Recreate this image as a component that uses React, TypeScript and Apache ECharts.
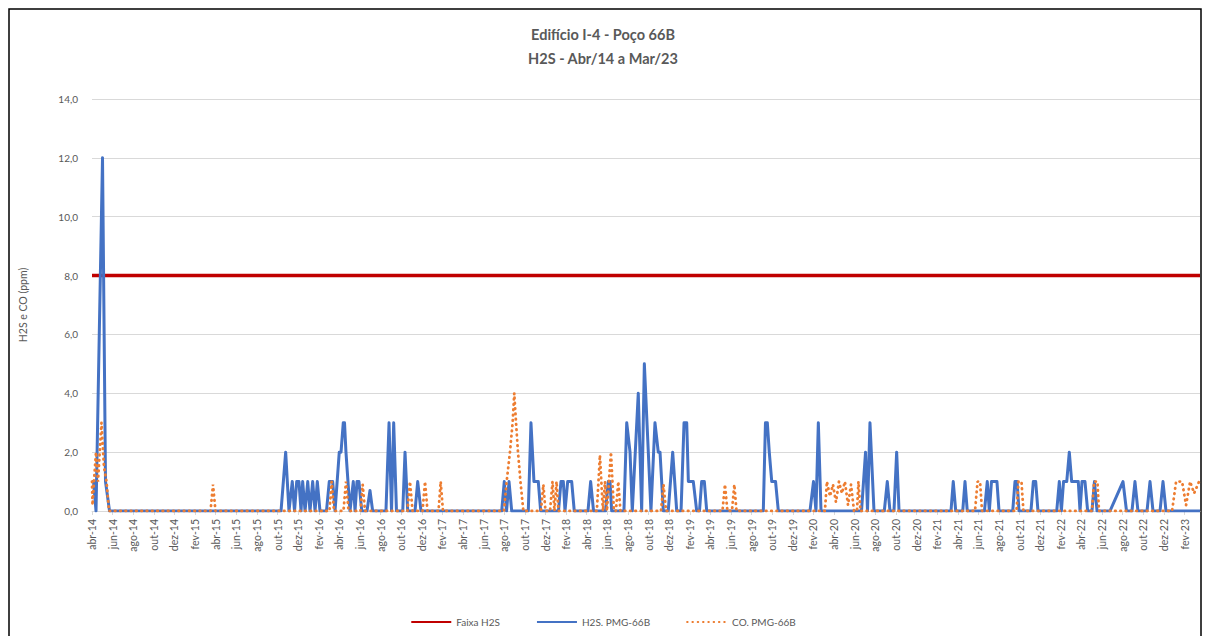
import React, { useEffect, useRef } from "react";
import * as echarts from "echarts";

// x = months since 1 Apr 2014 (fractional), y = ppm
const monthNames = ["jan", "fev", "mar", "abr", "mai", "jun", "jul", "ago", "set", "out", "nov", "dez"];
const xMin = 0;
const xMax = 107.5;
const faixaH2S = 8.0;
const titleLines = ["Edifício I-4 - Poço 66B", "H2S - Abr/14 a Mar/23"];
const seriesNames = ["Faixa H2S", "H2S. PMG-66B", "CO. PMG-66B"];

const h2sPoints: [number, number][] = [
  [0, 1.0], [0.15, 1.0], [0.39, 0], [1.02, 12], [1.31, 1.0], [1.7, 0],
  [18.34, 0], [18.79, 2.0], [19.11, 0], [19.43, 1.0], [19.65, 0], [19.86, 1.0], [20.08, 1.0], [20.28, 0],
  [20.44, 1.0], [20.67, 0], [20.93, 1.0], [21.15, 0], [21.41, 1.0], [21.64, 0], [21.86, 1.0], [22.12, 0],
  [22.75, 0], [23.02, 1.0], [23.35, 1.0], [23.58, 0], [23.99, 2.0], [24.16, 2.0], [24.38, 3.0], [24.5, 3.0],
  [24.64, 2.0], [25.03, 0], [25.35, 1.0], [25.52, 0], [25.71, 1.0], [25.9, 1.0], [26.17, 0],
  [26.68, 0], [26.97, 0.7], [27.23, 0],
  [28.52, 0], [28.82, 3.0], [29.06, 0], [29.27, 3.0], [29.54, 0],
  [30.15, 0], [30.37, 2.0], [30.63, 0], [31.34, 0], [31.6, 1.0], [31.92, 0],
  [39.75, 0], [40.0, 1.0], [40.22, 0], [40.46, 1.0], [40.72, 0],
  [42.33, 0], [42.59, 3.0], [42.88, 1.0], [43.3, 1.0], [43.53, 0],
  [45.26, 0], [45.5, 1.0], [45.73, 1.0], [45.89, 0], [46.15, 1.0], [46.54, 1.0], [46.79, 0],
  [48.12, 0], [48.38, 1.0], [48.66, 0], [49.82, 0], [50.09, 1.0], [50.26, 1.0], [50.42, 0],
  [51.61, 0], [51.88, 3.0], [52.2, 2.0], [52.42, 0], [53.0, 4.0], [53.33, 0], [53.59, 5.0], [54.23, 0],
  [54.62, 3.0], [54.94, 2.0], [55.11, 2.0], [55.43, 0], [55.91, 0], [56.34, 2.0], [56.73, 0],
  [57.15, 0], [57.44, 3.0], [57.7, 3.0], [57.86, 1.0], [58.34, 1.0], [58.67, 0],
  [58.94, 0], [59.15, 1.0], [59.41, 1.0], [59.64, 0],
  [65.13, 0], [65.34, 3.0], [65.52, 3.0], [65.71, 2.0], [65.95, 1.0], [66.32, 1.0], [66.59, 0],
  [69.66, 0], [70.0, 1.0], [70.24, 0], [70.47, 3.0], [70.73, 0],
  [74.66, 0], [75.05, 2.0], [75.24, 0], [75.48, 3.0], [75.87, 0],
  [76.87, 0], [77.16, 1.0], [77.42, 0], [77.81, 0], [78.07, 2.0], [78.3, 0],
  [83.34, 0], [83.56, 1.0], [83.8, 0], [84.48, 0], [84.7, 1.0], [84.92, 0],
  [86.59, 0], [86.86, 1.0], [87.06, 0], [87.27, 1.0], [87.8, 1.0], [88.0, 0],
  [89.33, 0], [89.55, 1.0], [89.75, 1.0], [89.94, 0],
  [91.1, 0], [91.33, 1.0], [91.56, 1.0], [91.78, 0],
  [93.6, 0], [93.85, 1.0], [94.05, 0], [94.26, 1.0], [94.57, 1.0], [94.82, 2.0], [95.05, 1.0],
  [95.69, 1.0], [95.86, 0], [96.05, 1.0], [96.34, 1.0], [96.6, 0],
  [97.02, 0], [97.26, 1.0], [97.51, 0],
  [98.77, 0], [100.03, 1.0], [100.37, 0], [100.9, 0], [101.19, 1.0], [101.48, 0],
  [102.36, 0], [102.65, 1.0], [102.94, 0], [103.62, 0], [103.91, 1.0], [104.2, 0],
  [107.5, 0],
];

const coPoints: [number, number][] = [
  [0, 1.0], [0.05, 0.2], [0.19, 1.0], [0.39, 2.0], [0.58, 1.0], [0.92, 3.0], [1.16, 1.5], [1.41, 1.0], [1.65, 0],
  [11.5, 0], [11.74, 0.9], [11.98, 0],
  [23.04, 0], [23.25, 1.0], [23.48, 0], [24.4, 0], [24.64, 1.0], [24.89, 0], [26.05, 0], [26.26, 0.9], [26.49, 0],
  [30.61, 0], [30.85, 1.0], [31.1, 0], [32.07, 0], [32.31, 1.0], [32.55, 0], [33.62, 0], [33.83, 1.0], [34.05, 0],
  [39.97, 0], [40.23, 1.0], [40.55, 2.0], [40.81, 3.0], [40.97, 4.0], [41.14, 3.0], [41.33, 2.0], [41.57, 1.0], [41.85, 0],
  [43.56, 0], [43.79, 0.9], [44.0, 0], [44.44, 0], [44.68, 1.0], [44.87, 0], [45.07, 1.0], [45.26, 0],
  [48.98, 0], [49.28, 1.9], [49.57, 0], [49.77, 1.0], [49.96, 0], [50.35, 2.0], [50.64, 0], [50.83, 0], [51.06, 1.0], [51.27, 0],
  [55.2, 0], [55.45, 0.9], [55.69, 0],
  [61.17, 0], [61.41, 0.9], [61.65, 0], [62.09, 0], [62.32, 0.9], [62.53, 0],
  [71.11, 0], [71.3, 1.0], [71.6, 0.5], [71.89, 0.9], [72.18, 0.3], [72.47, 1.0], [72.76, 0.6], [73.05, 1.0],
  [73.35, 0.2], [73.64, 0.9], [73.93, 0], [74.22, 0], [74.36, 1.0], [74.56, 0],
  [85.67, 0], [85.92, 1.0], [86.16, 1.0], [86.35, 0],
  [89.7, 0], [89.89, 1.0], [90.18, 1.0], [90.37, 0],
  [97.02, 0], [97.22, 1.0], [97.55, 1.0], [97.7, 0],
  [104.79, 0], [105.18, 1.0], [105.76, 1.0], [106.15, 0.2], [106.54, 1.0], [106.93, 0.6], [107.41, 1.0],
];

const faixaPoints: [number, number][] = [[xMin, faixaH2S], [xMax, faixaH2S]];

function monthLabel(v: number): string {
  if (Math.abs(v - Math.round(v)) > 1e-6 || Math.round(v) % 2 !== 0) return "";
  const k = 3 + Math.round(v);
  const yy = 14 + Math.floor(k / 12);
  return monthNames[k % 12] + "-" + String(yy);
}

const FONT = "Lato, 'Open Sans', sans-serif";
const GRAY = "#595959";

export default function App() {
  const ref = useRef<HTMLDivElement>(null);
  useEffect(() => {
    if (!ref.current) return;
    const chart = echarts.init(ref.current, null, { renderer: "svg" });
    chart.setOption({
      animation: false,
      backgroundColor: "#ffffff",
      textStyle: { fontFamily: FONT },
      title: {
        text: titleLines.join("\n"),
        left: "center",
        top: 17,
        textStyle: { fontSize: 14.5, fontWeight: "bold", color: GRAY, lineHeight: 24, fontFamily: FONT },
      },
      graphic: [
        {
          type: "rect",
          shape: { x: 9, y: 9, width: 1192, height: 700 },
          style: { fill: "none", stroke: "#000000", lineWidth: 1.5 },
          silent: true,
        },
      ],
      legend: {
        bottom: 4,
        left: "center",
        itemWidth: 40,
        itemHeight: 10,
        itemGap: 36,
        itemStyle: { opacity: 0 },
        textStyle: { fontSize: 10, color: GRAY, fontFamily: FONT },
        data: seriesNames,
      },
      grid: { left: 92, right: 6, top: 99, bottom: 125, containLabel: false },
      xAxis: {
        type: "value",
        min: xMin,
        max: xMax,
        interval: 2,
        splitLine: { show: false },
        axisLine: { show: true, lineStyle: { color: "#D9D9D9", width: 1 } },
        axisTick: { show: true, length: 4, lineStyle: { color: "#D9D9D9" } },
        axisLabel: {
          rotate: 90,
          fontSize: 10.5,
          color: GRAY,
          margin: 8,
          showMaxLabel: false,
          formatter: (v: number) => monthLabel(v),
        },
      },
      yAxis: {
        type: "value",
        min: 0,
        max: 14,
        interval: 2,
        name: "H2S e CO (ppm)",
        nameLocation: "middle",
        nameGap: 64,
        nameTextStyle: { fontSize: 10.5, color: GRAY, fontFamily: FONT },
        axisLine: { show: false },
        axisTick: { show: false },
        splitLine: { lineStyle: { color: "#D9D9D9", width: 1 } },
        axisLabel: {
          fontSize: 10,
          color: GRAY,
          margin: 14,
          formatter: (v: number) => v.toFixed(1).replace(".", ","),
        },
      },
      series: [
        {
          name: seriesNames[0],
          type: "line",
          data: faixaPoints,
          symbol: "none",
          lineStyle: { color: "#C00000", width: 3.5 },
          itemStyle: { color: "#C00000" },
        },
        {
          name: seriesNames[1],
          type: "line",
          data: h2sPoints,
          symbol: "none",
          lineStyle: { color: "#4472C4", width: 3, join: "round" },
          itemStyle: { color: "#4472C4" },
        },
        {
          name: seriesNames[2],
          type: "line",
          data: coPoints,
          symbol: "none",
          lineStyle: { color: "#ED7D31", width: 2.8, type: [0.5, 4.8], cap: "round" },
          itemStyle: { color: "#ED7D31" },
        },
      ],
    });
    return () => chart.dispose();
  }, []);
  return (
    <div
      ref={ref}
      style={{ position: "fixed", left: 0, top: 0, width: 1206, height: 636 }}
    />
  );
}
